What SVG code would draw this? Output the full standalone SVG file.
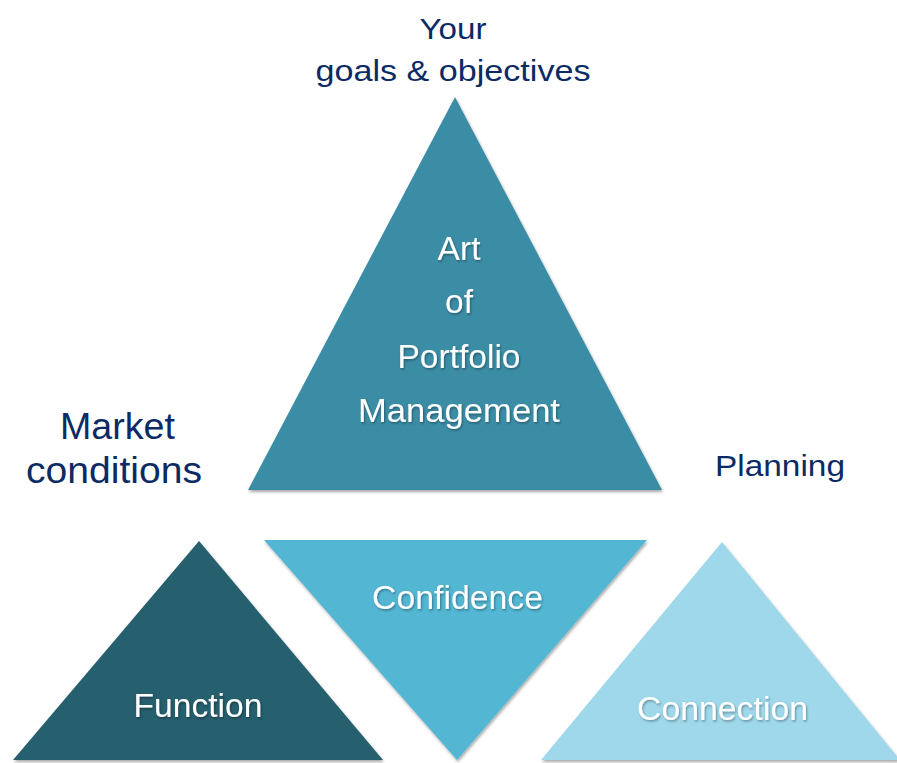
<svg xmlns="http://www.w3.org/2000/svg" width="897" height="763" viewBox="0 0 897 763">
  <defs>
    <filter id="shapeShadow" x="-10%" y="-10%" width="120%" height="120%">
      <feDropShadow dx="1" dy="2" stdDeviation="1.6" flood-color="#000" flood-opacity="0.35"/>
    </filter>
    <filter id="textShadow" x="-10%" y="-20%" width="120%" height="140%">
      <feDropShadow dx="1" dy="1.5" stdDeviation="1.2" flood-color="#000" flood-opacity="0.35"/>
    </filter>
  </defs>
  <style>
    .label { font-family: "Liberation Sans", Arial, sans-serif; fill: #0c2a63; text-anchor: middle; }
    .inner { font-family: "Liberation Sans", Arial, sans-serif; fill: #ffffff; text-anchor: middle; font-size: 33.5px; filter: url(#textShadow); }
    .tri { filter: url(#shapeShadow); }
  </style>
  <rect width="897" height="763" fill="#ffffff"/>

  <!-- outer captions -->
  <g id="caption-goals">
    <text class="label" x="453" y="39" font-size="29" textLength="67" lengthAdjust="spacingAndGlyphs">Your</text>
    <text class="label" x="453" y="81" font-size="29" textLength="275" lengthAdjust="spacingAndGlyphs">goals &amp; objectives</text>
  </g>
  <g id="caption-market">
    <text class="label" x="117.5" y="439" font-size="36" textLength="115" lengthAdjust="spacingAndGlyphs">Market</text>
    <text class="label" x="114" y="483" font-size="36" textLength="176" lengthAdjust="spacingAndGlyphs">conditions</text>
  </g>
  <g id="caption-planning">
    <text class="label" x="780" y="476" font-size="29" textLength="130" lengthAdjust="spacingAndGlyphs">Planning</text>
  </g>

  <!-- main triangle -->
  <g id="node-art">
    <polygon class="tri" points="455,97 662,490 248,490" fill="#3a8da6"/>
    <text class="inner" x="459" y="260" textLength="43" lengthAdjust="spacingAndGlyphs">Art</text>
    <text class="inner" x="459" y="313">of</text>
    <text class="inner" x="459" y="368" textLength="123" lengthAdjust="spacingAndGlyphs">Portfolio</text>
    <text class="inner" x="459" y="422" textLength="202" lengthAdjust="spacingAndGlyphs">Management</text>
  </g>

  <!-- lower row -->
  <g id="node-function">
    <polygon class="tri" points="199,541 383,760 13,760" fill="#265f6e"/>
    <text class="inner" x="198" y="717" textLength="129" lengthAdjust="spacingAndGlyphs">Function</text>
  </g>
  <g id="node-confidence">
    <polygon class="tri" points="264,540 647,540 457,760" fill="#52b6d3"/>
    <text class="inner" x="457.5" y="609" textLength="171" lengthAdjust="spacingAndGlyphs">Confidence</text>
  </g>
  <g id="node-connection">
    <polygon class="tri" points="722,542 900,760 541,760" fill="#9ed8ea"/>
    <text class="inner" x="722.5" y="720" textLength="171" lengthAdjust="spacingAndGlyphs">Connection</text>
  </g>

  <g id="connectors"/>
</svg>
